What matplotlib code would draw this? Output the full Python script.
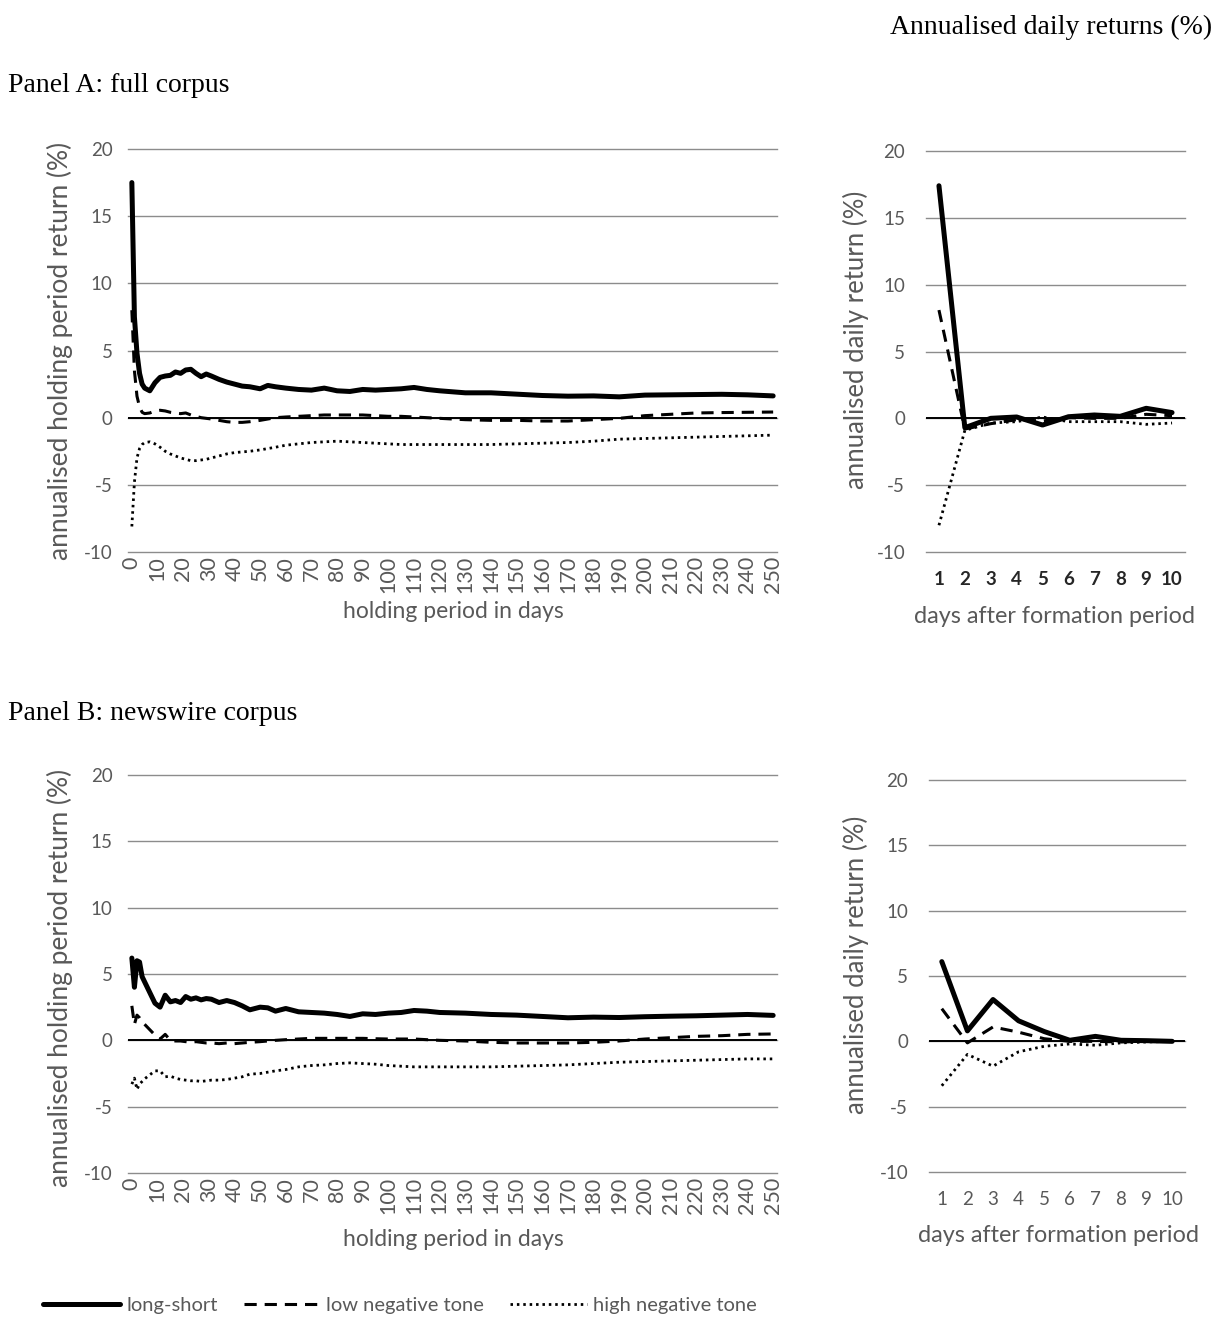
import matplotlib
matplotlib.use("Agg")
import matplotlib.pyplot as plt
from matplotlib.lines import Line2D

W, H = 1217, 1324
SANS = ["Lato", "DejaVu Sans"]
SERIF = ["Liberation Serif", "DejaVu Serif"]
TICK_GREY = "#595959"
GRID_GREY = "#8c8c8c"
plt.rcParams["axes.unicode_minus"] = False

HOLD_DAYS = [0, 1, 2, 3, 4, 5, 7, 9, 11, 13, 15, 17, 19, 21, 23, 25, 27, 29, 31,
             34, 37, 40, 43, 46, 50, 53, 56, 60, 65, 70, 75, 80, 85, 90, 95, 100,
             105, 110, 115, 120, 130, 140, 150, 160, 170, 180, 190, 200, 210, 220,
             230, 240, 250]

# Panel A: full corpus, holding period returns
A_HOLD_LS = [17.5, 7.5, 4.8, 3.3, 2.5, 2.2, 2.0, 2.6, 3.0, 3.1, 3.15, 3.4, 3.3, 3.55,
             3.6, 3.3, 3.05, 3.25, 3.1, 2.85, 2.65, 2.5, 2.35, 2.3, 2.15, 2.4, 2.3,
             2.2, 2.1, 2.05, 2.2, 2.0, 1.95, 2.1, 2.05, 2.1, 2.15, 2.25, 2.1, 2.0,
             1.85, 1.85, 1.75, 1.65, 1.6, 1.62, 1.55, 1.68, 1.7, 1.72, 1.74, 1.7, 1.62]
A_HOLD_LOW = [8.0, 3.5, 1.6, 0.8, 0.4, 0.3, 0.35, 0.5, 0.55, 0.5, 0.4, 0.35, 0.3, 0.35,
              0.2, 0.1, 0.0, -0.05, -0.1, -0.2, -0.3, -0.35, -0.35, -0.3, -0.2, -0.1,
              0.0, 0.05, 0.1, 0.15, 0.2, 0.2, 0.2, 0.2, 0.15, 0.1, 0.1, 0.05, 0.0,
              -0.05, -0.15, -0.2, -0.2, -0.25, -0.25, -0.15, -0.05, 0.15, 0.25, 0.35,
              0.38, 0.4, 0.42]
A_HOLD_HIGH = [-8.1, -4.8, -3.0, -2.3, -2.0, -1.85, -1.8, -1.95, -2.2, -2.5, -2.7,
               -2.85, -3.0, -3.1, -3.2, -3.2, -3.15, -3.1, -3.0, -2.85, -2.7, -2.6,
               -2.55, -2.5, -2.4, -2.3, -2.2, -2.05, -1.95, -1.85, -1.8, -1.75, -1.8,
               -1.85, -1.9, -1.95, -2.0, -2.0, -2.0, -2.0, -2.0, -2.0, -1.95, -1.9,
               -1.85, -1.75, -1.6, -1.55, -1.5, -1.45, -1.4, -1.35, -1.3]

# Panel B: newswire corpus, holding period returns
B_HOLD_LS = [6.2, 4.0, 6.0, 5.9, 4.8, 4.4, 3.6, 2.8, 2.5, 3.4, 2.9, 3.0, 2.85, 3.3,
             3.1, 3.2, 3.05, 3.15, 3.1, 2.85, 3.0, 2.85, 2.6, 2.3, 2.5, 2.45, 2.2,
             2.4, 2.15, 2.1, 2.05, 1.95, 1.8, 2.0, 1.95, 2.05, 2.1, 2.25, 2.2, 2.1,
             2.05, 1.95, 1.9, 1.8, 1.7, 1.75, 1.72, 1.78, 1.82, 1.85, 1.9, 1.95, 1.88]
B_HOLD_LOW = [2.6, 1.2, 1.9, 1.7, 1.4, 1.2, 0.8, 0.4, 0.1, 0.45, 0.0, -0.05, -0.05,
              -0.1, -0.15, -0.1, -0.15, -0.2, -0.2, -0.25, -0.2, -0.25, -0.2, -0.15,
              -0.1, -0.05, 0.0, 0.05, 0.1, 0.15, 0.15, 0.15, 0.15, 0.15, 0.12, 0.1,
              0.1, 0.1, 0.05, 0.0, -0.05, -0.15, -0.2, -0.2, -0.2, -0.15, -0.05, 0.1,
              0.2, 0.3, 0.35, 0.45, 0.48]
B_HOLD_HIGH = [-3.3, -2.85, -3.7, -3.3, -3.1, -2.9, -2.6, -2.3, -2.3, -2.75, -2.7,
               -2.85, -2.95, -3.0, -3.05, -3.05, -3.1, -3.05, -3.0, -3.0, -2.95,
               -2.85, -2.75, -2.55, -2.5, -2.4, -2.3, -2.2, -2.0, -1.9, -1.85, -1.75,
               -1.7, -1.75, -1.8, -1.9, -1.95, -2.0, -2.0, -2.0, -2.0, -2.0, -1.95,
               -1.9, -1.85, -1.75, -1.65, -1.6, -1.55, -1.5, -1.45, -1.4, -1.4]

# daily returns, days after formation period
FORM_DAYS = [1, 2, 3, 4, 5, 6, 7, 8, 9, 10]
A_DAILY_LS = [17.4, -0.7, 0.0, 0.1, -0.5, 0.12, 0.25, 0.15, 0.75, 0.43]
A_DAILY_LOW = [8.1, -0.8, -0.4, -0.1, -0.2, 0.05, 0.0, 0.0, 0.3, 0.2]
A_DAILY_HIGH = [-8.0, -0.9, -0.35, -0.25, 0.1, -0.25, -0.25, -0.25, -0.45, -0.35]
B_DAILY_LS = [6.1, 0.8, 3.2, 1.57, 0.75, 0.08, 0.38, 0.08, 0.05, 0.0]
B_DAILY_LOW = [2.5, -0.12, 1.1, 0.7, 0.2, 0.0, 0.0, -0.05, 0.0, 0.0]
B_DAILY_HIGH = [-3.4, -1.0, -1.9, -0.8, -0.38, -0.2, -0.3, -0.12, -0.05, 0.0]

SERIES_LABELS = ["long-short", "low negative tone", "high negative tone"]
Y_TICKS = [-10, -5, 0, 5, 10, 15, 20]

LS_KW = dict(color="black", lw=3.6, solid_capstyle="round", solid_joinstyle="round", zorder=3)
LOW_KW = dict(color="black", lw=2.2, linestyle=(0, (4, 2.6)), zorder=4)
HIGH_KW = dict(color="black", lw=2.0, linestyle=(0, (0.9, 1.4)), zorder=5)


def _px_axes(fig, x0, y0, x1, y1):
    return fig.add_axes([x0 / W, 1 - y1 / H, (x1 - x0) / W, (y1 - y0) / H])


def _style_axes(ax, ypad):
    for side in ax.spines.values():
        side.set_visible(False)
    ax.set_ylim(-10, 20)
    ax.set_yticks(Y_TICKS)
    ax.grid(axis="y", color=GRID_GREY, lw=1.0, zorder=1)
    for gl in ax.yaxis.get_gridlines():
        gl.set_clip_on(False)
    ax.set_axisbelow(True)
    ax.axhline(0, color="black", lw=1.4, zorder=2)
    ax.tick_params(length=0, labelcolor=TICK_GREY, labelsize=13.5)
    ax.tick_params(axis="y", pad=ypad)
    for lab in ax.get_xticklabels() + ax.get_yticklabels():
        lab.set_family(SANS)


def _plot_series(ax, x, ls, low, high):
    ax.plot(x, ls, **LS_KW)
    ax.plot(x, low, **LOW_KW)
    ax.plot(x, high, **HIGH_KW)


def draw_holding_panel(fig, box, ls, low, high):
    ax = _px_axes(fig, *box)
    _plot_series(ax, HOLD_DAYS, ls, low, high)
    ax.set_xlim(-1.5, 251.5)
    ax.set_xticks(range(0, 251, 10))
    ax.set_xticklabels([str(d) for d in range(0, 251, 10)], rotation=90)
    _style_axes(ax, ypad=11)
    ax.tick_params(axis="x", pad=3, labelsize=15.5)
    return ax


def draw_daily_panel(fig, box, ls, low, high, bold_ticks=False):
    ax = _px_axes(fig, *box)
    _plot_series(ax, FORM_DAYS, ls, low, high)
    ax.set_xlim(0.5, 10.5)
    ax.set_xticks(FORM_DAYS)
    _style_axes(ax, ypad=15)
    ax.tick_params(axis="x", pad=14)
    if bold_ticks:
        for lab in ax.get_xticklabels():
            lab.set_fontweight("bold")
            lab.set_color("#262626")
    return ax


def _label(fig, x, y, text, rot=0, size=16.5):
    fig.text(x / W, 1 - y / H, text, rotation=rot, ha="center", va="center",
             family=SANS, size=size, color=TICK_GREY)


fig = plt.figure(figsize=(W / 100, H / 100), dpi=100)

draw_holding_panel(fig, (128, 149, 777, 552), A_HOLD_LS, A_HOLD_LOW, A_HOLD_HIGH)
draw_daily_panel(fig, (926, 151, 1185, 552), A_DAILY_LS, A_DAILY_LOW, A_DAILY_HIGH, bold_ticks=True)
draw_holding_panel(fig, (128, 775, 777, 1173), B_HOLD_LS, B_HOLD_LOW, B_HOLD_HIGH)
draw_daily_panel(fig, (929, 780, 1185, 1172), B_DAILY_LS, B_DAILY_LOW, B_DAILY_HIGH)

# axis titles
_label(fig, 60, 351, "annualised holding period return (%)", rot=90, size=19)
_label(fig, 856, 340, "annualised daily return (%)", rot=90, size=18.5)
_label(fig, 60, 978, "annualised holding period return (%)", rot=90, size=19)
_label(fig, 856, 965, "annualised daily return (%)", rot=90, size=18.5)
_label(fig, 453, 612, "holding period in days")
_label(fig, 1055, 617, "days after formation period", size=16.8)
_label(fig, 453, 1240, "holding period in days")
_label(fig, 1058, 1235, "days after formation period", size=16.8)

# panel headings
fig.text(890 / W, 1 - 27 / H, "Annualised daily returns (%)", ha="left", va="center",
         family=SERIF, size=20, color="black")
fig.text(8 / W, 1 - 85 / H, "Panel A: full corpus", ha="left", va="center",
         family=SERIF, size=20, color="black")
fig.text(8 / W, 1 - 713 / H, "Panel B: newswire corpus", ha="left", va="center",
         family=SERIF, size=20, color="black")

handles = [Line2D([], [], **LS_KW), Line2D([], [], **LOW_KW), Line2D([], [], **HIGH_KW)]
fig.legend(handles, SERIES_LABELS, loc="center", bbox_to_anchor=(400 / W, 1 - 1305 / H),
           ncol=3, frameon=False, handlelength=3.8, handletextpad=0.3,
           columnspacing=1.3, labelcolor=TICK_GREY, prop=dict(family=SANS, size=14.5))

fig.savefig("out.png", dpi=100)
plt.close(fig)
